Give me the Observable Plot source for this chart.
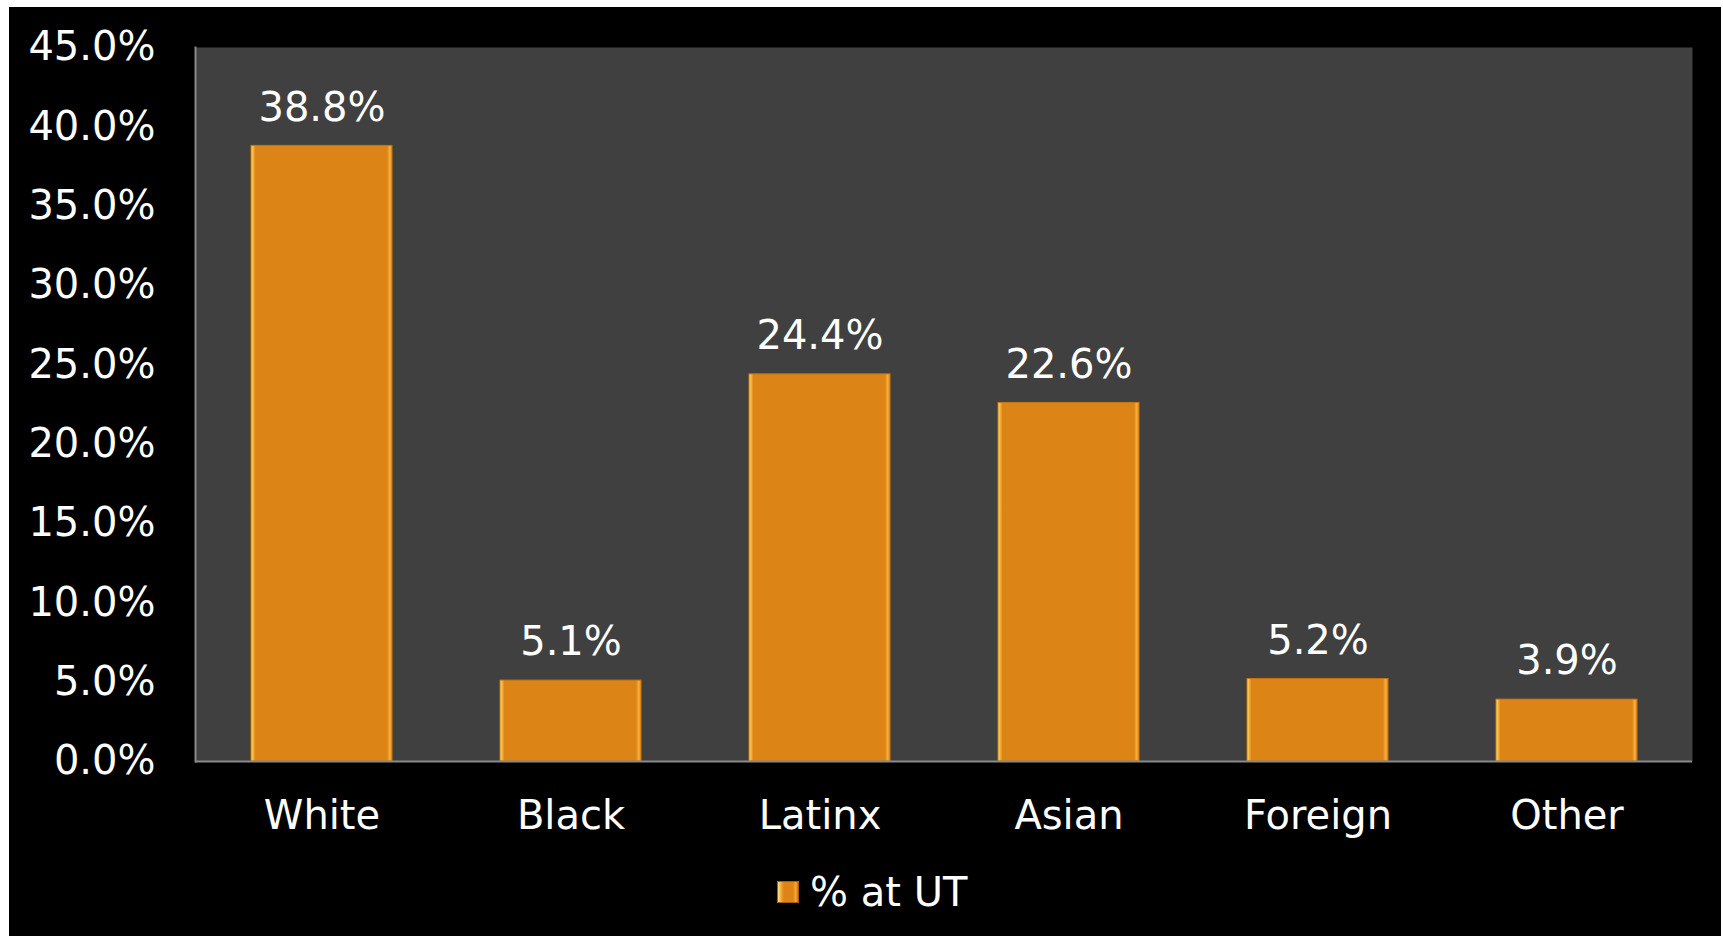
<!DOCTYPE html>
<html>
<head>
<meta charset="utf-8">
<script src="https://cdn.jsdelivr.net/npm/d3@7"></script>
<script src="https://cdn.jsdelivr.net/npm/@observablehq/plot@0.6"></script>
<style>
  html, body { margin: 0; padding: 0; background: #ffffff; }
  #frame { position: absolute; left: 9px; top: 7px; width: 1712px; height: 929px; background: #000000; font-family: "DejaVu Sans", sans-serif; }
  #chart { position: absolute; left: 0; top: 0; }
  #legend { position: absolute; left: 768px; top: 862px; display: flex; align-items: center; color: #ffffff; font-size: 40px; }
  #legend .sw { width: 22px; height: 22px; margin-right: 11px; background: linear-gradient(90deg, #ffe07a 0%, #f0a030 18%, #dd8417 30%, #dd8417 75%, #f5a838 88%, #c8740f 100%); border: 1px solid #a85f0c; box-sizing: border-box; }
</style>
</head>
<body>
<div id="frame">
  <div id="chart"></div>
  <div id="legend"><div class="sw"></div><span>% at UT</span></div>
</div>
<script>
const categories = ["White", "Black", "Latinx", "Asian", "Foreign", "Other"];
const values = [38.8, 5.1, 24.4, 22.6, 5.2, 3.9];
const yTicks = [0, 5, 10, 15, 20, 25, 30, 35, 40, 45];

const data = categories.map((c, i) => ({category: c, value: values[i]}));
const fmt = d => d.toFixed(1) + "%";

const chart = Plot.plot({
  width: 1712,
  height: 849,
  marginLeft: 186,
  marginRight: 29,
  marginTop: 40,
  marginBottom: 95,
  style: {background: "transparent", fontFamily: "DejaVu Sans, sans-serif", color: "#ffffff", overflow: "visible"},
  x: {domain: categories, paddingInner: 0.434, paddingOuter: 0.217, label: null},
  y: {domain: [0, 45], label: null},
  marks: [
    Plot.frame({fill: "#404040", stroke: null}),
    Plot.barY(data, {x: "category", y: "value", fill: "url(#barGrad)", stroke: "#c8740f", strokeWidth: 1}),
    Plot.text(data, {x: "category", y: "value", text: d => fmt(d.value), dy: -38, fill: "#ffffff", fontSize: 40, lineAnchor: "middle"}),
    Plot.ruleY([0], {stroke: "#8a8a8a", strokeWidth: 2}),
    Plot.frame({anchor: "left", stroke: "#8a8a8a", strokeWidth: 2}),
    Plot.axisY({ticks: yTicks, tickFormat: fmt, tickSize: 0, tickPadding: 40, fontSize: 40, fill: "#ffffff", label: null}),
    Plot.axisX({tickSize: 0, tickPadding: 39, fontSize: 40, fill: "#ffffff", label: null})
  ]
});

const ns = "http://www.w3.org/2000/svg";
const defs = document.createElementNS(ns, "defs");
const grad = document.createElementNS(ns, "linearGradient");
grad.setAttribute("id", "barGrad");
grad.setAttribute("x1", "0"); grad.setAttribute("x2", "1");
grad.setAttribute("y1", "0"); grad.setAttribute("y2", "0");
[["0%", "#ffe47a"], ["1.6%", "#f5b13a"], ["3.2%", "#dd8417"], ["96.5%", "#dd8417"], ["98.3%", "#f8ad3c"], ["100%", "#e08c20"]].forEach(([o, c]) => {
  const s = document.createElementNS(ns, "stop");
  s.setAttribute("offset", o); s.setAttribute("stop-color", c);
  grad.appendChild(s);
});
defs.appendChild(grad);
chart.insertBefore(defs, chart.firstChild);

document.getElementById("chart").appendChild(chart);
</script>
</body>
</html>
